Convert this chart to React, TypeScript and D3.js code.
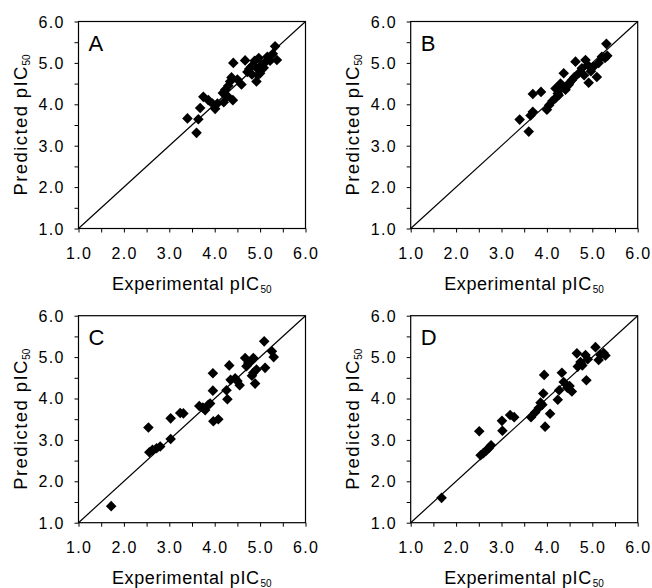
import React, { useEffect, useRef } from 'react';
import * as d3 from 'd3';

// [experimental, predicted]
const panelA: [number, number][] = [
  [3.40, 3.66], [3.60, 3.31], [3.64, 3.64], [3.68, 3.91], [3.75, 4.18], [3.86, 4.10],
  [3.95, 4.02], [4.01, 3.89], [4.06, 4.02], [4.18, 4.27], [4.20, 4.05], [4.23, 4.35],
  [4.28, 4.20], [4.30, 4.45], [4.34, 4.55], [4.37, 4.65], [4.40, 4.10], [4.41, 5.00],
  [4.50, 4.60], [4.59, 4.48], [4.67, 5.06], [4.72, 4.78], [4.76, 4.85], [4.82, 4.72],
  [4.85, 4.95], [4.88, 5.05], [4.92, 4.55], [4.94, 4.86], [4.97, 5.12], [5.00, 4.75],
  [5.03, 4.95], [5.08, 4.88], [5.12, 5.02], [5.16, 5.15], [5.22, 5.05], [5.28, 5.22],
  [5.33, 5.40], [5.37, 5.07], [4.95, 4.70], [4.80, 4.90],
];
const panelB: [number, number][] = [
  [3.40, 3.63], [3.60, 3.34], [3.64, 3.73], [3.69, 3.82], [3.69, 4.25], [3.87, 4.30],
  [4.00, 3.87], [4.05, 3.98], [4.12, 4.08], [4.19, 4.15], [4.19, 4.38], [4.24, 4.26],
  [4.30, 4.50], [4.33, 4.40], [4.37, 4.75], [4.41, 4.35], [4.48, 4.47], [4.55, 4.58],
  [4.60, 4.65], [4.63, 5.03], [4.70, 4.75], [4.77, 4.87], [4.82, 4.70], [4.85, 5.07],
  [4.90, 4.95], [4.92, 4.52], [4.97, 4.80], [5.02, 4.90], [5.10, 4.66], [5.14, 5.00],
  [5.21, 5.15], [5.28, 5.12], [5.33, 5.17], [5.31, 5.46], [4.50, 4.52], [4.26, 4.22],
];
const panelC: [number, number][] = [
  [1.72, 1.40], [2.54, 3.30], [2.56, 2.70], [2.63, 2.76], [2.72, 2.80], [2.80, 2.84],
  [3.03, 3.02], [3.03, 3.52], [3.24, 3.65], [3.31, 3.64], [3.66, 3.82], [3.74, 3.78],
  [3.79, 3.72], [3.86, 3.85], [3.90, 3.88], [3.96, 4.19], [3.96, 4.61], [3.97, 3.45],
  [4.08, 3.50], [4.26, 4.20], [4.28, 3.98], [4.32, 4.80], [4.35, 4.45], [4.45, 4.49],
  [4.50, 4.42], [4.55, 4.32], [4.67, 4.98], [4.70, 4.78], [4.74, 4.86], [4.80, 4.90],
  [4.85, 4.98], [4.82, 4.55], [4.85, 4.62], [4.89, 4.36], [4.92, 4.70], [5.11, 4.74],
  [5.09, 5.38], [5.26, 5.14], [5.30, 5.00],
];
const panelD: [number, number][] = [
  [1.68, 1.60], [2.51, 3.21], [2.54, 2.63], [2.60, 2.68], [2.66, 2.74], [2.72, 2.80],
  [2.77, 2.87], [3.01, 3.46], [3.02, 3.22], [3.19, 3.60], [3.28, 3.55], [3.65, 3.55],
  [3.74, 3.66], [3.82, 3.77], [3.86, 3.90], [3.90, 3.85], [3.92, 4.12], [3.94, 4.57],
  [3.96, 3.32], [4.07, 3.63], [4.24, 3.97], [4.27, 4.20], [4.33, 4.62], [4.37, 4.40],
  [4.45, 4.26], [4.50, 4.30], [4.55, 4.17], [4.66, 5.09], [4.68, 4.77], [4.74, 4.88],
  [4.78, 4.80], [4.85, 5.05], [4.87, 4.44], [4.90, 4.95], [5.07, 5.24], [5.14, 4.93],
  [5.18, 5.05], [5.25, 5.10], [5.29, 5.04],
];
const panelLabels = ['A', 'B', 'C', 'D'];
const majorTicks = [1, 2, 3, 4, 5, 6];
const minorTicks = [1, 1.5, 2, 2.5, 3, 3.5, 4, 4.5, 5, 5.5, 6];

const FONT = '"Liberation Sans", Arial, Helvetica, sans-serif';

const App = () => {
  const ref = useRef<SVGSVGElement>(null);

  useEffect(() => {
    const svg = d3.select(ref.current);
    svg.selectAll('*').remove();

    const panels = [
      { data: panelA, left: 78.5, top: 21.5 },
      { data: panelB, left: 410.7, top: 21.5 },
      { data: panelC, left: 78.5, top: 315.7 },
      { data: panelD, left: 410.7, top: 315.7 },
    ];
    const w = 227;
    const h = 207;

    panels.forEach((p, i) => {
      const g = svg.append('g').attr('transform', `translate(${p.left},${p.top})`);
      const x = d3.scaleLinear().domain([1, 6]).range([0, w]);
      const y = d3.scaleLinear().domain([1, 6]).range([h, 0]);

      // ticks every 0.5, outward
      g.append('g').attr('transform', `translate(0,${h})`)
        .call(d3.axisBottom(x).tickValues(minorTicks).tickSize(4).tickFormat(() => ''))
        .call((a) => a.select('.domain').remove())
        .selectAll('line').attr('stroke', '#000');
      g.append('g')
        .call(d3.axisLeft(y).tickValues(minorTicks).tickSize(4).tickFormat(() => ''))
        .call((a) => a.select('.domain').remove())
        .selectAll('line').attr('stroke', '#000');

      // tick labels
      g.selectAll('.xl').data(majorTicks).enter().append('text')
        .attr('x', (d) => x(d) - 12.5).attr('y', h + 30.5)
        .attr('textLength', 25).attr('lengthAdjust', 'spacing')
        .attr('font-family', FONT).attr('font-size', 16)
        .text((d) => d3.format('.1f')(d));
      g.selectAll('.yl').data(majorTicks).enter().append('text')
        .attr('x', -40).attr('y', (d) => y(d) + 6)
        .attr('textLength', 25).attr('lengthAdjust', 'spacing')
        .attr('font-family', FONT).attr('font-size', 16)
        .text((d) => d3.format('.1f')(d));

      // identity line
      g.append('line')
        .attr('x1', x(1)).attr('y1', y(1)).attr('x2', x(6)).attr('y2', y(6))
        .attr('stroke', '#000').attr('stroke-width', 1.2);

      // points
      g.selectAll('.pt').data(p.data).enter().append('path')
        .attr('d', d3.symbol(d3.symbolSquare, 56)())
        .attr('transform', (d) => `translate(${x(d[0])},${y(d[1])}) rotate(45)`)
        .attr('fill', '#000');

      // frame
      g.append('rect')
        .attr('x', 0).attr('y', 0).attr('width', w).attr('height', h)
        .attr('fill', 'none').attr('stroke', '#000').attr('stroke-width', 1.2);

      // panel letter
      g.append('text')
        .attr('x', 10).attr('y', 29)
        .attr('font-family', FONT).attr('font-size', 22)
        .text(panelLabels[i]);

      // x title
      g.append('text')
        .attr('x', 33.5).attr('y', h + 61)
        .attr('textLength', 147).attr('lengthAdjust', 'spacing')
        .attr('font-family', FONT).attr('font-size', 18)
        .text('Experimental pIC');
      g.append('text')
        .attr('x', 182).attr('y', h + 64)
        .attr('font-family', FONT).attr('font-size', 10)
        .text('50');

      // y title
      const yt = g.append('g').attr('transform', `translate(-51.5,${h - 33}) rotate(-90)`);
      yt.append('text')
        .attr('x', 0).attr('y', 0)
        .attr('textLength', 129).attr('lengthAdjust', 'spacing')
        .attr('font-family', FONT).attr('font-size', 18.5)
        .text('Predicted pIC');
      yt.append('text')
        .attr('x', 130).attr('y', 3)
        .attr('font-family', FONT).attr('font-size', 10)
        .text('50');
    });
  }, []);

  return (
    <svg
      ref={ref}
      width={652}
      height={588}
      style={{ position: 'absolute', left: 0, top: 0, background: '#fff' }}
    />
  );
};

export default App;
